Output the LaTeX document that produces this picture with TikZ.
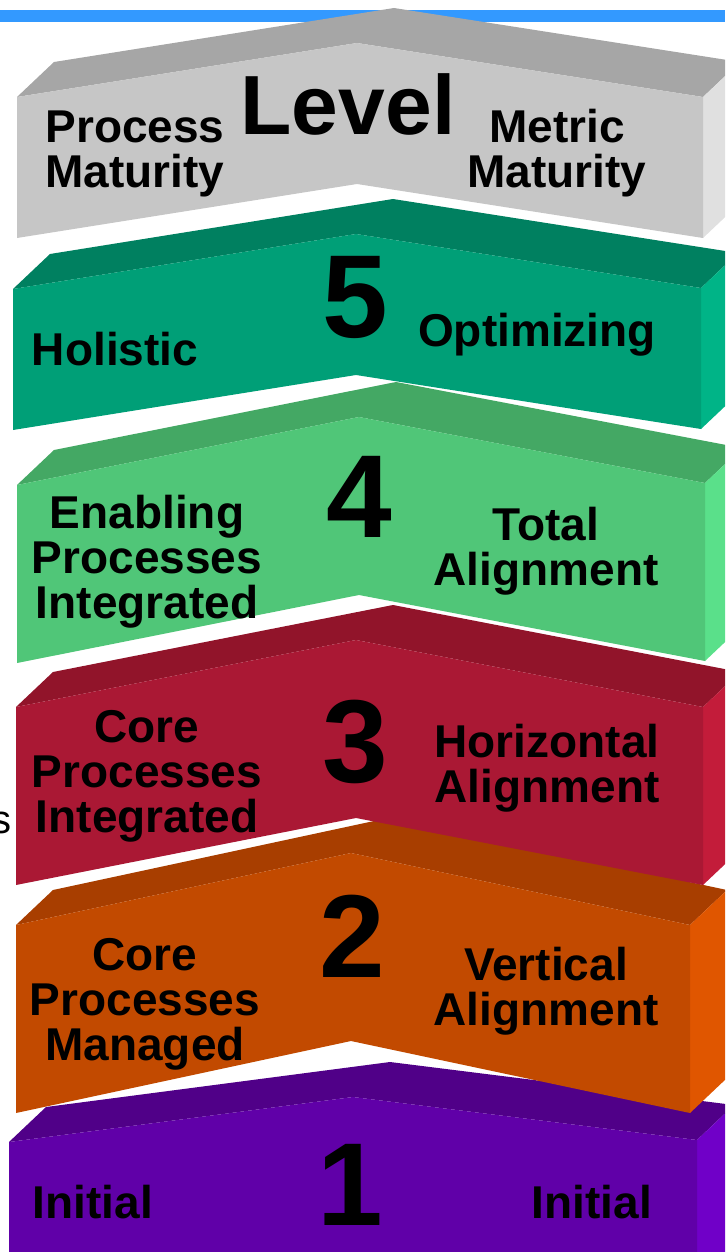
\documentclass[tikz,border=0pt]{standalone}
\usepackage{fontspec}
\setmainfont{Liberation Sans}
\usetikzlibrary{calc}
\definecolor{barblue}{HTML}{3399FF}
\definecolor{lvfront}{HTML}{C6C6C6}\definecolor{lvtop}{HTML}{A6A6A6}\definecolor{lvside}{HTML}{E0E0E0}
\definecolor{fivefront}{HTML}{009F77}\definecolor{fivetop}{HTML}{008060}\definecolor{fiveside}{HTML}{00B487}
\definecolor{fourfront}{HTML}{50C678}\definecolor{fourtop}{HTML}{44A864}\definecolor{fourside}{HTML}{5AE08A}
\definecolor{threefront}{HTML}{AA1834}\definecolor{threetop}{HTML}{91142A}\definecolor{threeside}{HTML}{C31C3A}
\definecolor{twofront}{HTML}{C24A00}\definecolor{twotop}{HTML}{A83E00}\definecolor{twoside}{HTML}{E05600}
\definecolor{onefront}{HTML}{6000A8}\definecolor{onetop}{HTML}{500088}\definecolor{oneside}{HTML}{7000C8}
% chevron band: colour prefix, left / peak / right top corners of the front face, height
\def\chevron#1(#2)(#3)(#4)#5{%
  \fill[#1top] (#2) -- ++(37,-35) -- ($(#3)+(37,-35)$) -- ($(#4)+(37,-35)$) -- (#4) -- (#3) -- cycle;
  \fill[#1side] (#4) -- ++(37,-35) -- ++(0,#5) -- ++(-37,35) -- cycle;
  \fill[#1front] (#2) -- (#3) -- (#4) -- ++(0,#5) -- ($(#3)+(0,#5)$) -- ($(#2)+(0,#5)$) -- cycle;}
\tikzset{lbl/.style={font=\fontsize{46}{45}\selectfont\bfseries, align=center, anchor=base, inner sep=0pt},
  digit/.style={font=\fontsize{118}{118}\selectfont\bfseries, anchor=base, inner sep=0pt}}

\begin{document}
\begin{tikzpicture}[x=1pt, y=-1pt]
		%%%%% START %%%%%
		\useasboundingbox (0,0) rectangle (725,1252);
		\clip (0,0) rectangle (725,1252);
		
		\fill[barblue] (0,10) rectangle (725,22);
		
		% bands, lowest first
		\chevron{one}(9,1142)(353,1097)(697,1140){160}
		\chevron{two}(16,925)(351,853)(690,925){188}
		\chevron{three}(16,707)(356,640)(703,707){178}
		\chevron{four}(17,485)(359,417)(705,483){178}
		\chevron{five}(13,289)(356,234)(701,288){141}
		\chevron{lv}(17,97)(357,43)(703,97){141}
		
		% multi-line labels sit on their last line
		\node[lbl] (pm) at (135,188) {Process\\Maturity};
		\node[lbl, font=\fontsize{84}{84}\selectfont\bfseries] (lvl) at (348,135) {Level};
		\node[lbl] (mm) at (557,188) {Metric\\Maturity};
		
		\node[lbl] (hol) at (115,365) {Holistic};
		\node[digit] (n5) at (355,337) {5};
		\node[lbl] (opt) at (537,346) {Optimizing};
		
		\node[lbl] (epi) at (147,618) {Enabling\\Processes\\Integrated};
		\node[digit] (n4) at (359,537) {4};
		\node[lbl] (tal) at (546,585) {Total\\Alignment};
		
		\node[font=\fontsize{40}{40}\selectfont, anchor=base east, inner sep=0pt] (frag) at (12,833) {s};
		\node[lbl] (cpi) at (147,832) {Core\\Processes\\Integrated};
		\node[digit] (n3) at (355,782) {3};
		\node[lbl] (hal) at (547,802) {Horizontal\\Alignment};
		
		\node[lbl] (cpm) at (145,1060) {Core\\Processes\\Managed};
		\node[digit] (n2) at (352,977) {2};
		\node[lbl] (val) at (546,1025) {Vertical\\Alignment};
		
		\node[lbl] (ini) at (93,1218) {Initial};
		\node[digit] (n1) at (350,1225) {1};
		\node[lbl] (inr) at (592,1218) {Initial};
		%%%%% END %%%%%
	\end{tikzpicture}
\end{document}
